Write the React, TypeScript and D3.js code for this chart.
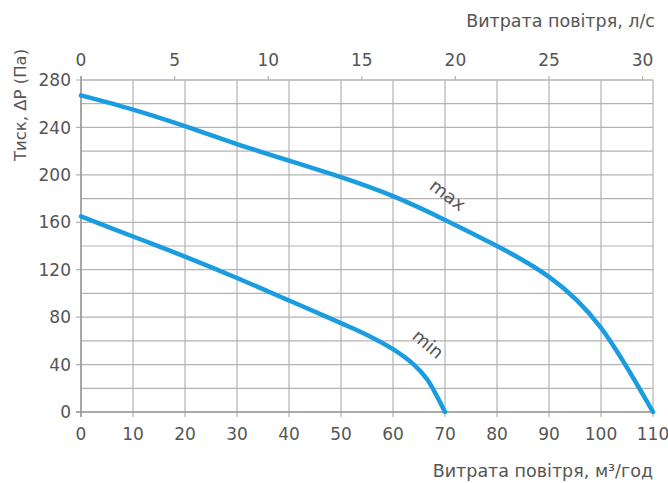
import React from "react";
import * as d3 from "d3";

const xTicks = [0, 10, 20, 30, 40, 50, 60, 70, 80, 90, 100, 110];
const topTicks = [0, 5, 10, 15, 20, 25, 30];
const yTicks = [0, 40, 80, 120, 160, 200, 240, 280];
const yGrid = [0, 20, 40, 60, 80, 100, 120, 140, 160, 180, 200, 220, 240, 260, 280];

const maxFlow = [0, 10, 20, 30, 40, 50, 60, 70, 80, 90, 100, 110];
const maxPressure = [267, 255, 241, 226, 212, 198, 182, 162, 140, 114, 71, 0];
const minFlow = [0, 10, 20, 30, 40, 50, 55, 60, 64, 66.5, 68, 70];
const minPressure = [165, 148, 131, 113, 94, 75, 65, 53, 40, 28, 17, 0];

const W = 668, H = 483;
const x0 = 81, x1 = 653, yTop = 80, yBot = 412;
const FONT = "DejaVu Sans, sans-serif";
const TXT = "#555";
const BLUE = "#1a9de0";

export default function App() {
  const x = d3.scaleLinear().domain([0, 110]).range([x0, x1]);
  const xl = d3.scaleLinear().domain([0, 110 / 3.6]).range([x0, x1]);
  const y = d3.scaleLinear().domain([0, 280]).range([yBot, yTop]);
  const maxLine = d3.line<[number, number]>()
    .x(d => x(d[0]))
    .y(d => y(d[1]))
    .curve(d3.curveNatural);
  const minLine = d3.line<[number, number]>()
    .x(d => x(d[0]))
    .y(d => y(d[1]))
    .curve(d3.curveCatmullRom.alpha(0.5));
  const maxPts = maxFlow.map((f, i) => [f, maxPressure[i]] as [number, number]);
  const minPts = minFlow.map((f, i) => [f, minPressure[i]] as [number, number]);

  return (
    <svg width={W} height={H} style={{ position: "absolute", left: 0, top: 0 }}>
      <rect width={W} height={H} fill="#fff" />
      {yGrid.map(v => (
        <line key={"hg" + v} x1={v % 40 === 0 ? x0 - 5 : x0} x2={x1} y1={y(v)} y2={y(v)} stroke="#b3b3b3" strokeWidth={1.2} />
      ))}
      {xTicks.map(v => (
        <line key={"vg" + v} x1={x(v)} x2={x(v)} y1={yTop} y2={yBot + 5} stroke="#b3b3b3" strokeWidth={1.2} />
      ))}
      {topTicks.map(v => (
        <line key={"tt" + v} x1={xl(v)} x2={xl(v)} y1={yTop - 4} y2={yTop} stroke="#b3b3b3" strokeWidth={1.2} />
      ))}
      <line x1={x0} x2={x0} y1={yTop - 4} y2={yBot + 5} stroke="#999" strokeWidth={1.5} />
      <line x1={x0 - 5} x2={x1} y1={yBot} y2={yBot} stroke="#999" strokeWidth={1.5} />
      <line x1={x0} x2={x1} y1={yTop} y2={yTop} stroke="#b3b3b3" strokeWidth={1.2} />

      <path d={minLine(minPts) || ""} fill="none" stroke={BLUE} strokeWidth={4.5} strokeLinecap="round" />
      <path d={maxLine(maxPts) || ""} fill="none" stroke={BLUE} strokeWidth={4.5} strokeLinecap="round" />

      {yTicks.map(v => (
        <text key={"yl" + v} x={x0 - 10} y={y(v)} dy="0.36em" textAnchor="end" fontFamily={FONT} fontSize={17} fill={TXT}>{v}</text>
      ))}
      {xTicks.map(v => (
        <text key={"xl" + v} x={x(v)} y={440} textAnchor="middle" fontFamily={FONT} fontSize={17} fill={TXT}>{v}</text>
      ))}
      {topTicks.map(v => (
        <text key={"tl" + v} x={xl(v)} y={66} textAnchor="middle" fontFamily={FONT} fontSize={17} fill={TXT}>{v}</text>
      ))}
      <text x={655} y={27} textAnchor="end" fontFamily={FONT} fontSize={17.5} fill={TXT}>Витрата повітря, л/с</text>
      <text x={653} y={477} textAnchor="end" fontFamily={FONT} fontSize={17.5} fill={TXT}>Витрата повітря, м³/год</text>
      <text transform="translate(26,105) rotate(-90)" textAnchor="middle" fontFamily={FONT} fontSize={16.5} fill={TXT}>Тиск, ΔР (Па)</text>
      <text transform="translate(444,200) rotate(37)" textAnchor="middle" fontFamily={FONT} fontSize={18} fill={TXT}>max</text>
      <text transform="translate(424,349) rotate(40)" textAnchor="middle" fontFamily={FONT} fontSize={18} fill={TXT}>min</text>
    </svg>
  );
}
